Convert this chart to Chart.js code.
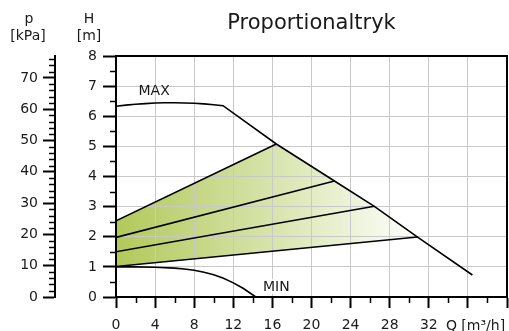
<!DOCTYPE html>
<html>
<head>
<meta charset="utf-8">
<script src="https://cdn.jsdelivr.net/npm/chart.js@4.4.0/dist/chart.umd.min.js"></script>
<style>
  html, body { margin: 0; padding: 0; background: #fff; }
  #wrap { width: 509px; height: 331px; position: relative; }
</style>
</head>
<body>
<div id="wrap"><canvas id="c" width="509" height="331"></canvas></div>
<script>
// ---- data ----
const chartTitle = 'Proportionaltryk';
const qTickLabels = ['0', '4', '8', '12', '16', '20', '24', '28', '32', '', ''];
const qAxisTitle = 'Q [m³/h]';
const hTickLabels = ['0', '1', '2', '3', '4', '5', '6', '7', '8'];
const pTickLabels = ['0', '10', '20', '30', '40', '50', '60', '70'];

// MAX curve
const maxQ = [0, 1, 2, 3, 4, 5, 6, 7, 8, 9, 10, 10.95, 16.4, 22.35, 26.43, 30.85, 36.46];
const maxH = [6.33, 6.37, 6.40, 6.42, 6.44, 6.45, 6.45, 6.44, 6.43, 6.41, 6.38, 6.35, 5.08, 3.85, 3.01, 1.99, 0.73];

// MIN curve
const minQ = [0, 2, 4, 6, 7, 8, 9, 10, 11, 12, 13, 14.3];
const minH = [1.0, 1.0, 0.99, 0.96, 0.93, 0.89, 0.82, 0.74, 0.62, 0.47, 0.29, 0.0];

// proportional-pressure curves (start on H axis, end on MAX curve)
const propStartH = [2.53, 1.98, 1.50, 1.01];
const propEndQ = [16.4, 22.35, 26.43, 30.85];
const propEndH = [5.08, 3.85, 3.01, 1.99];

// ---- build datasets ----
const pts = (qs, hs) => qs.map((q, i) => ({ x: q, y: hs[i] }));

const i0 = maxQ.indexOf(propEndQ[0]);
const i1 = maxQ.indexOf(propEndQ[3]) + 1;
const upper = [{ x: 0, y: propStartH[0] }].concat(pts(maxQ.slice(i0, i1), maxH.slice(i0, i1)));
const lower = [{ x: propEndQ[3], y: propEndH[3] }, { x: 0, y: propStartH[3] }];
const regionPts = upper.concat(lower);

const lineStyle = { showLine: true, borderColor: '#000', borderWidth: 1.6, pointRadius: 0, tension: 0, fill: false };

const datasets = [
  {
    data: regionPts, showLine: true, borderWidth: 0, borderColor: 'rgba(0,0,0,0)', pointRadius: 0, tension: 0,
    fill: 'shape',
    backgroundColor(ctx) {
      const ch = ctx.chart; const a = ch.chartArea;
      if (!a) return '#c8d98a';
      const xs = ch.scales.x;
      const g = ch.ctx.createLinearGradient(xs.getPixelForValue(0), 0, xs.getPixelForValue(propEndQ[3]), 0);
      g.addColorStop(0, '#b2c95a');
      g.addColorStop(0.45, '#d2e0a1');
      g.addColorStop(0.8, '#eef4dc');
      g.addColorStop(1, '#ffffff');
      return g;
    }
  },
  Object.assign({ data: pts(maxQ, maxH) }, lineStyle),
  Object.assign({ data: pts(minQ, minH) }, lineStyle),
];
for (let i = 0; i < propStartH.length; i++) {
  datasets.push(Object.assign({ data: [{ x: 0, y: propStartH[i] }, { x: propEndQ[i], y: propEndH[i] }] }, lineStyle));
}

// ---- decorations drawn through the scales ----
const decor = {
  id: 'decor',
  afterDatasetsDraw(chart) {
    const { ctx, chartArea: a } = chart;
    const x = chart.scales.x, y = chart.scales.y, p = chart.scales.p;
    const seg = (x1, y1, x2, y2) => { ctx.beginPath(); ctx.moveTo(x1, y1); ctx.lineTo(x2, y2); ctx.stroke(); };
    ctx.save();
    ctx.strokeStyle = '#000';
    ctx.lineWidth = 2;
    seg(a.left - 1, a.top, a.right, a.top);
    seg(a.right, a.top - 1, a.right, a.bottom);
    // minor ticks
    ctx.lineWidth = 1.5;
    for (let v = 2; v < 40; v += 4) { const px = Math.round(x.getPixelForValue(v)) + 0.5; seg(px, a.bottom, px, a.bottom + 6); }
    for (let v = 0.5; v < 8; v += 1) { const py = Math.round(y.getPixelForValue(v)) + 0.5; seg(a.left - 6, py, a.left, py); }
    for (let v = 2; v <= 76; v += 2) { if (v % 10) { const py = Math.round(p.getPixelForValue(v)) + 0.5; seg(p.right - 6, py, p.right, py); } }

    ctx.fillStyle = '#1a1a1a';
    ctx.textAlign = 'center';
    ctx.textBaseline = 'middle';
    ctx.font = '14px "DejaVu Sans", sans-serif';
    ctx.fillText('MAX', x.getPixelForValue(3.9), y.getPixelForValue(6.83));
    const mx = x.getPixelForValue(16.4), my = y.getPixelForValue(0.33);
    ctx.fillStyle = '#fff';
    ctx.fillRect(mx - 15, my - 8, 30, 15);
    ctx.fillStyle = '#1a1a1a';
    ctx.fillText('MIN', mx, my);

    // Q axis title, on the tick-label line after "32"
    ctx.textBaseline = 'alphabetic';
    ctx.textAlign = 'left';
    ctx.fillText(qAxisTitle, x.getPixelForValue(36) - 22, 330);

    // title
    ctx.textAlign = 'center';
    ctx.font = '21px "DejaVu Sans", sans-serif';
    ctx.fillText(chartTitle, (a.left + a.right) / 2, 29);

    // axis titles
    ctx.font = '14px "DejaVu Sans", sans-serif';
    ctx.fillText('p', 29, 23);
    ctx.fillText('[kPa]', 28, 40);
    ctx.fillText('H', 89, 23);
    ctx.fillText('[m]', 89, 40);
    ctx.restore();
  }
};

Chart.defaults.font.family = '"DejaVu Sans", sans-serif';
Chart.defaults.font.size = 14;
Chart.defaults.color = '#1a1a1a';

new Chart(document.getElementById('c'), {
  type: 'scatter',
  data: { datasets },
  plugins: [decor],
  options: {
    responsive: false,
    animation: false,
    events: [],
    layout: { padding: { top: 56, right: 2, left: 0, bottom: 0 } },
    plugins: {
      legend: { display: false },
      tooltip: { enabled: false },
      title: { display: false },
      filler: { drawTime: 'beforeDraw' }
    },
    scales: {
      x: {
        type: 'linear', position: 'bottom', min: 0, max: 40,
        ticks: {
          stepSize: 4, padding: 9, maxRotation: 0, autoSkip: false, includeBounds: false,
          callback: (v) => qTickLabels[Math.round(v / 4)]
        },
        grid: { color: '#c8c8c8', lineWidth: 1, tickLength: 11, tickColor: '#000', tickWidth: 2 },
        border: { color: '#000', width: 2 },
        afterFit: (s) => { s.height = 34; s.paddingLeft = 0; s.paddingRight = 0; }
      },
      y: {
        type: 'linear', position: 'left', min: 0, max: 8, weight: 1,
        ticks: { stepSize: 1, padding: 6, callback: (v) => hTickLabels[Math.round(v)] },
        grid: { color: '#c8c8c8', lineWidth: 1, tickLength: 13, tickColor: '#000', tickWidth: 2 },
        border: { color: '#000', width: 2 },
        afterFit: (s) => { s.width = 61; }
      },
      p: {
        type: 'linear', position: 'left', min: 0, max: 77, weight: 2,
        ticks: { stepSize: 10, padding: 5, includeBounds: false, callback: (v) => pTickLabels[Math.round(v / 10)] },
        grid: { drawOnChartArea: false, tickLength: 12, tickColor: '#000', tickWidth: 2 },
        border: { color: '#000', width: 2 },
        afterFit: (s) => { s.width = 55; }
      }
    }
  }
});
</script>
</body>
</html>
